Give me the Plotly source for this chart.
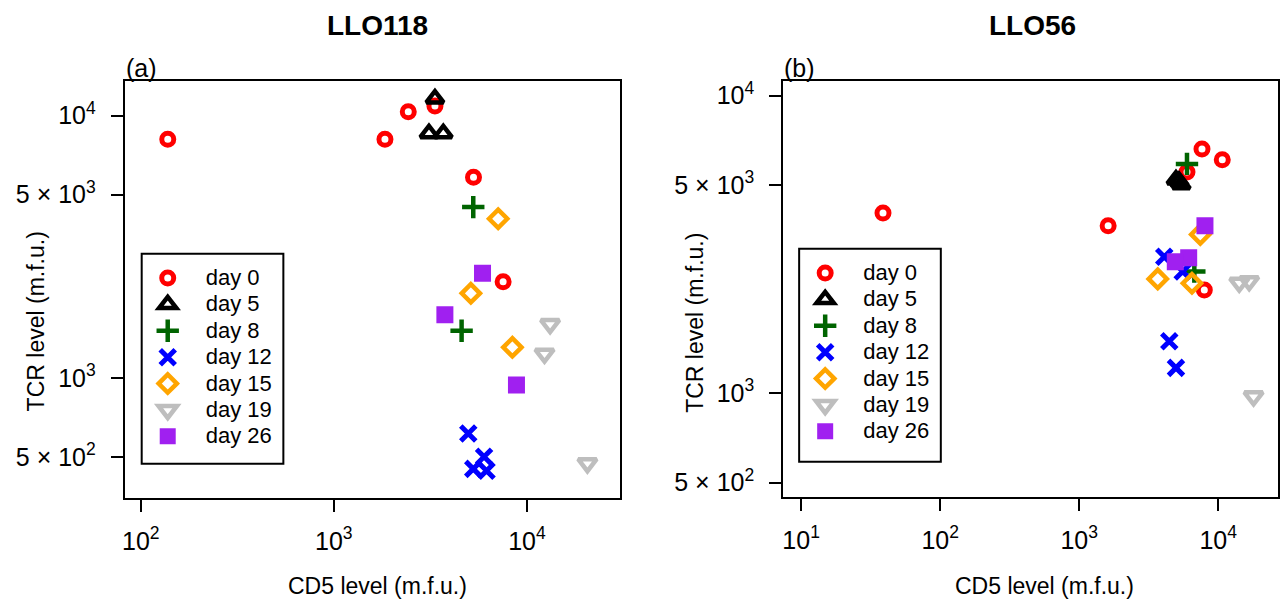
import plotly.graph_objects as go

# The page body has an 8px default margin, so the figure is drawn 8px smaller
# and all pixel positions below are given in window coordinates.
OFF = 8
W, H = 1288 - OFF, 606 - OFF
FONT = "Liberation Sans, Arial, sans-serif"

days = ["day 0", "day 5", "day 8", "day 12", "day 15", "day 19", "day 26"]
colors = ["#FF0000", "#000000", "#006400", "#0000FF", "#FFA500", "#BEBEBE", "#A020F0"]
symbols = ["circle-open", "triangle-up-open", "cross-thin-open", "x-thin-open",
           "diamond-open", "triangle-down-open", "square"]
sizes = [12, 15, 16, 15, 14, 16, 17]
lwidths = [5, 4.5, 4.5, 5, 4.5, 4.5, 0]

# Panel (a): LLO118
llo118_cd5 = [
    [138, 1840, 2430, 3340, 5290, 7530],
    [3340, 3110, 3690],
    [5275, 4590],
    [4970, 6000, 5275, 6180],
    [7100, 5125, 8410],
    [13190, 12340, 20580],
    [5890, 3760, 8830],
]
llo118_tcr = [
    [8130, 8130, 10330, 10880, 5820, 2330],
    [11600, 8550, 8550],
    [4480, 1515],
    [615, 502, 451, 444],
    [4046, 2104, 1310],
    [1607, 1239, 474],
    [2507, 1742, 941],
]

# Panel (b): LLO56
llo56_cd5 = [
    [38.8, 1615, 7640, 10690, 5960, 7940],
    [4966, 5422, 5224],
    [5960, 6730],
    [4090, 5550, 4445, 4966],
    [7430, 3673, 6473],
    [14160, 16700, 17950],
    [8025, 6130, 4911],
]
llo56_tcr = [
    [4030, 3650, 6610, 6080, 5530, 2220],
    [5213, 5020, 5155],
    [5890, 2560],
    [2870, 2560, 1493, 1215],
    [3414, 2419, 2339],
    [2350, 2377, 975],
    [3650, 2851, 2764],
]

y_tickvals = [500, 1000, 5000, 10000]
y_ticktext = ["5 × 10<sup>2</sup>", "10<sup>3</sup>", "5 × 10<sup>3</sup>", "10<sup>4</sup>"]
xa_tickvals = [100, 1000, 10000]
xa_ticktext = ["10<sup>2</sup>", "10<sup>3</sup>", "10<sup>4</sup>"]
xb_tickvals = [10, 100, 1000, 10000]
xb_ticktext = ["10<sup>1</sup>", "10<sup>2</sup>", "10<sup>3</sup>", "10<sup>4</sup>"]


def px_x(p):
    return (p - OFF) / W


def px_y(p):
    return 1 - (p - OFF) / H


fig = go.Figure()

panels = [
    (llo118_cd5, llo118_tcr, "x", "y", "legend"),
    (llo56_cd5, llo56_tcr, "x2", "y2", "legend2"),
]
for cd5, tcr, xa, ya, lg in panels:
    for i, d in enumerate(days):
        mk = dict(symbol=symbols[i], size=sizes[i], color=colors[i],
                  line=dict(color=colors[i], width=lwidths[i]))
        fig.add_trace(go.Scatter(
            x=cd5[i], y=tcr[i], mode="markers", marker=mk,
            name='<span style="font-size:22px">' + d + "</span>",
            xaxis=xa, yaxis=ya, legend=lg, showlegend=True,
        ))

axis_common = dict(
    type="log", showgrid=False, zeroline=False, showline=True, mirror=True,
    linecolor="black", linewidth=2, ticks="outside", ticklen=12, tickwidth=2,
    tickcolor="black", tickfont=dict(family=FONT, size=25, color="black"),
)

fig.update_layout(
    width=W, height=H,
    margin=dict(l=0, r=0, t=0, b=0),
    paper_bgcolor="white", plot_bgcolor="white",
    font=dict(family=FONT, color="black"),
    xaxis=dict(axis_common, domain=[px_x(122), px_x(618)], range=[1.917, 4.48],
               tickvals=xa_tickvals, ticktext=xa_ticktext, anchor="y",
               ticklabelstandoff=8),
    yaxis=dict(axis_common, domain=[px_y(497), px_y(78)], range=[2.545, 4.133],
               tickvals=y_tickvals, ticktext=y_ticktext, anchor="x",
               ticklabelstandoff=10),
    xaxis2=dict(axis_common, domain=[px_x(782), px_x(1278)], range=[0.871, 4.43],
                tickvals=xb_tickvals, ticktext=xb_ticktext, anchor="y2",
                ticklabelstandoff=8),
    yaxis2=dict(axis_common, domain=[px_y(496), px_y(78)], range=[2.652, 4.05],
                tickvals=y_tickvals, ticktext=y_ticktext, anchor="x2",
                ticklabelstandoff=10),
    legend=dict(x=px_x(127), y=px_y(258), xanchor="left", yanchor="top",
                bgcolor="rgba(0,0,0,0)", borderwidth=0, itemwidth=66,
                font=dict(family=FONT, size=18, color="black"), tracegroupgap=0),
    legend2=dict(x=px_x(786), y=px_y(253), xanchor="left", yanchor="top",
                 bgcolor="rgba(0,0,0,0)", borderwidth=0, itemwidth=66,
                 font=dict(family=FONT, size=18, color="black"), tracegroupgap=0),
    shapes=[
        dict(type="rect", xref="paper", yref="paper",
             x0=px_x(139), x1=px_x(281), y0=px_y(463), y1=px_y(252),
             line=dict(color="black", width=2), fillcolor="rgba(0,0,0,0)"),
        dict(type="rect", xref="paper", yref="paper",
             x0=px_x(798), x1=px_x(940), y0=px_y(461), y1=px_y(247),
             line=dict(color="black", width=2), fillcolor="rgba(0,0,0,0)"),
    ],
)

ann = []
def add_text(text, x, y, size, xanchor="center", angle=0, bold=False):
    ann.append(dict(text=("<b>%s</b>" % text) if bold else text,
                    x=px_x(x), y=px_y(y), xref="paper", yref="paper",
                    xanchor=xanchor, yanchor="middle", showarrow=False,
                    textangle=angle, font=dict(family=FONT, size=size, color="black")))

add_text("LLO118", 375, 23, 28, bold=True)
add_text("LLO56", 1032, 23, 28, bold=True)
add_text("(a)", 121, 65, 25, xanchor="left")
add_text("(b)", 781, 65, 25, xanchor="left")
add_text("CD5 level (m.f.u.)", 375, 586, 23)
add_text("CD5 level (m.f.u.)", 1044, 586, 23)
add_text("TCR level (m.f.u.)", 33, 320, 23, angle=-90)
add_text("TCR level (m.f.u.)", 694, 321, 23, angle=-90)
fig.update_layout(annotations=ann)

fig.write_html("out.html")
